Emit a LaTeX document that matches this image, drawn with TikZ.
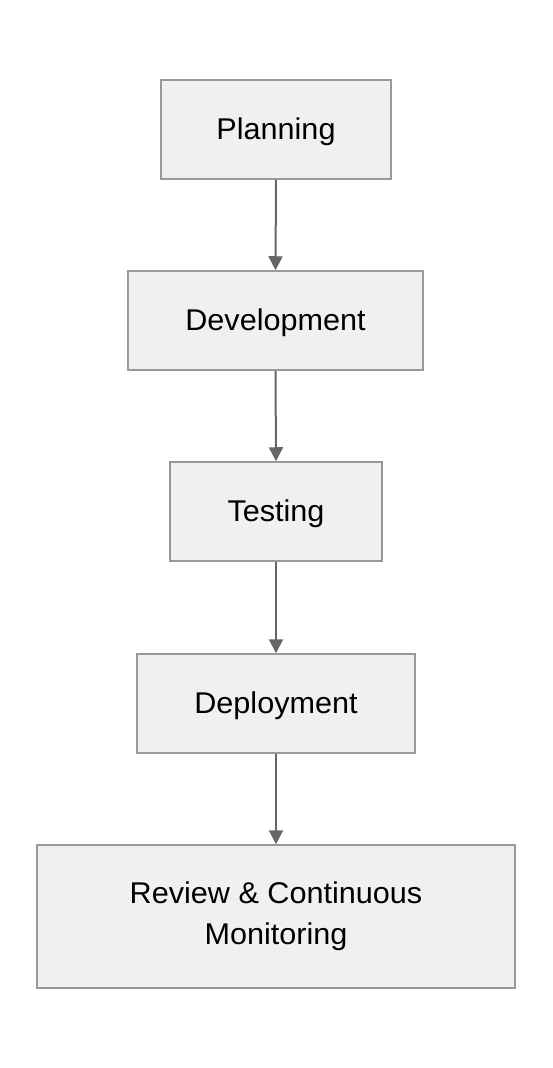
\documentclass[tikz,border=0pt]{standalone}
\usepackage{fontspec}
\setmainfont{Liberation Sans}[FakeStretch=1.02]
\usetikzlibrary{arrows.meta}
\definecolor{boxfill}{HTML}{F0F0F0}
\definecolor{boxdraw}{HTML}{999999}
\definecolor{arrowc}{HTML}{666666}
\begin{document}
\begin{tikzpicture}[x=1pt,y=-1pt,
  stagebox/.style={draw=boxdraw,fill=boxfill,line width=1.5pt,inner sep=0pt,
    font=\fontsize{30}{41}\selectfont},
  oneline/.style={stagebox,text height=21pt,text depth=1pt},
  flow/.style={draw=arrowc,line width=2pt,-{Triangle[length=14pt,width=14pt]}}]
\useasboundingbox (0,0) rectangle (552,1068);
\node[oneline,minimum width=230pt,minimum height=99pt] (plan) at (276,129.5) {Planning};
\node[oneline,minimum width=295pt,minimum height=99pt] (dev) at (275.5,320.5) {Development};
\node[oneline,minimum width=212pt,minimum height=99pt] (test) at (276,511.5) {Testing};
\node[oneline,minimum width=278pt,minimum height=99pt] (dep) at (276,703.5) {Deployment};
\node[stagebox,align=center,minimum width=478pt,minimum height=143pt] (rev) at (276,916.5) {Review \& Continuous\\Monitoring};
\draw[flow] (plan.south) -- (dev.north);
\draw[flow] (dev.south) -- (test.north);
\draw[flow] (test.south) -- (dep.north);
\draw[flow] (dep.south) -- (rev.north);
\end{tikzpicture}
\end{document}
